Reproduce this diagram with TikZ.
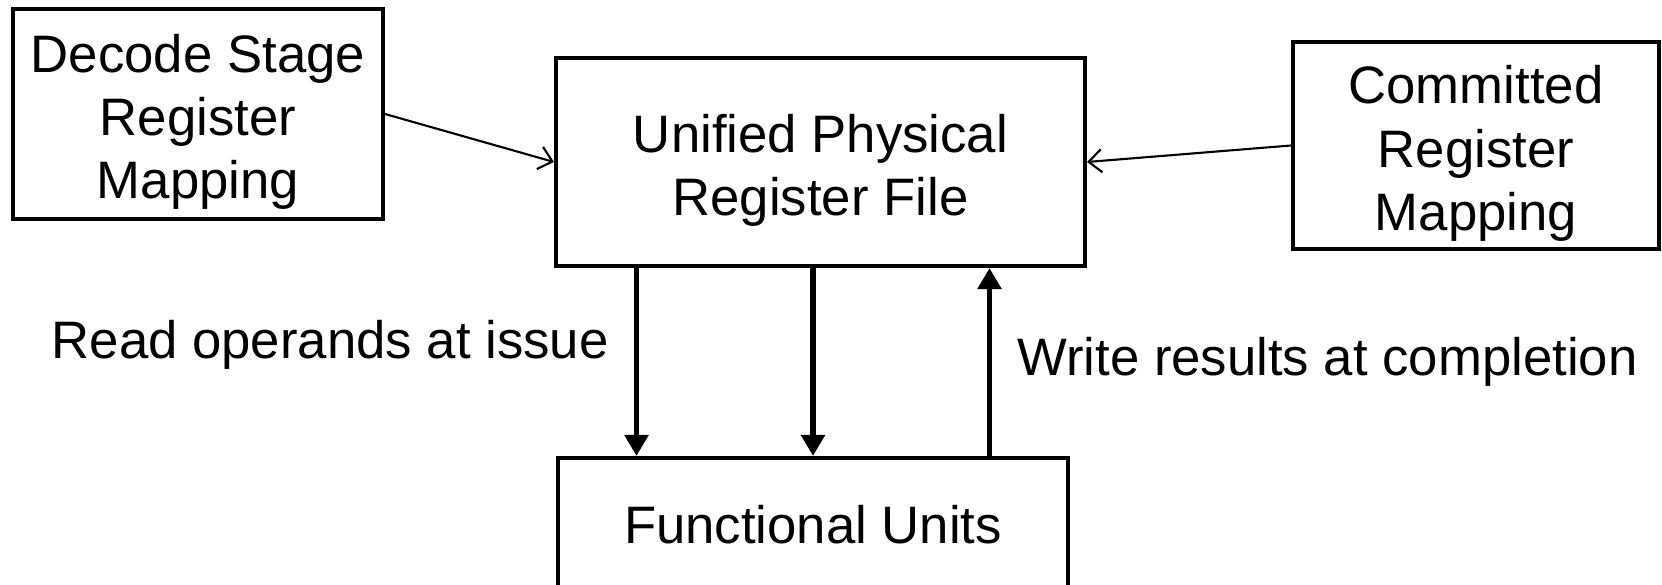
\documentclass[tikz,border=0pt]{standalone}
\usepackage{fontspec}
\setmainfont{Liberation Sans}
\usepackage{tikz}
\usetikzlibrary{arrows.meta,calc}

\tikzset{
  bloc/.style={draw=black,line width=2.3pt,inner sep=0pt},
  texte/.style={align=center,yshift=-0.16cm},
  thinarrow/.style={line width=1.2pt,-{Straight Barb[length=0.26cm,width=0.46cm,line width=1.2pt]}},
  bigarrow/.style={line width=3.3pt,-{Triangle[length=0.42cm,width=0.46cm]}},
  legende/.style={inner sep=0.5cm}
}

\begin{document}
\begin{tikzpicture}[font=\fontsize{30}{36}\selectfont]
\useasboundingbox (0,0) rectangle (33.24,11.68);

% boites du haut
\node[bloc,minimum width=7.40cm,minimum height=4.19cm] at (3.96,9.40) (dec) {};
\node[texte] at (dec.center) (dect) {Decode Stage\\Register\\Mapping};
\node[bloc,minimum width=10.58cm,minimum height=4.16cm] at (16.41,8.44) (upf) {};
\node[texte] at (upf.center) (upft) {Unified Physical\\Register File};
\node[bloc,minimum width=7.32cm,minimum height=4.14cm] at (29.52,8.77) (com) {};
\node[texte] at (com.center) (comt) {Committed\\Register\\Mapping};

% unites fonctionnelles
\node[bloc,minimum width=10.20cm,minimum height=2.74cm] at (16.26,1.15) (fu) {};
\node at (16.26,1.18) (fut) {Functional Units};

% fleches fines
\draw[thinarrow] (dec.east) -- (upf.west);
\draw[thinarrow] (com.west) -- (upf.east);

% lecture / ecriture
\coordinate (r1) at ([xshift=-3.53cm]fu.north);
\coordinate (r3) at ([xshift=3.53cm]fu.north);
\draw[bigarrow] (r1 |- upf.south) -- (r1) node[legende,left,pos=0.41] (lire) {Read operands at issue};
\draw[bigarrow] (upf.south -| fu.north) -- (fu.north);
\draw[bigarrow] (r3) -- (r3 |- upf.south) node[legende,right,pos=0.5] (ecrire) {Write results at completion};
\end{tikzpicture}
\end{document}
